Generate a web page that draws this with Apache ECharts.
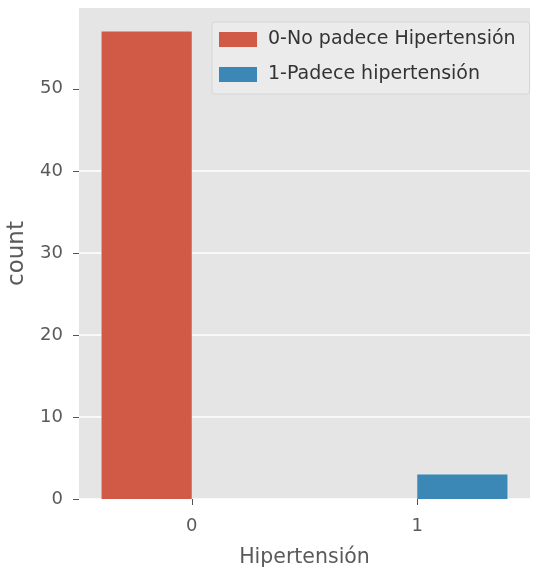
<!DOCTYPE html>
<html><head><meta charset="utf-8">
<script src="https://cdn.jsdelivr.net/npm/echarts@6/dist/echarts.min.js"></script>
<style>html,body{margin:0;padding:0;background:#fff}#c{width:534px;height:576px}</style>
</head><body><div id="c"></div>
<script>
const categories = ['0', '1'];
const seriesNames = ['0-No padece Hipertensión', '1-Padece hipertensión'];
const noPadece = [57, null];
const padece = [null, 3];
const yTicks = [0, 10, 20, 30, 40, 50];
const FONT = '"DejaVu Sans", sans-serif';
const chart = echarts.init(document.getElementById('c'), null, {renderer: 'canvas'});
chart.setOption({
  backgroundColor: '#ffffff',
  animation: false,
  textStyle: {fontFamily: FONT},
  grid: {left: 79, right: 4, top: 8, bottom: 77, show: true, backgroundColor: '#e5e5e5', borderWidth: 0,
         containLabel: false, outerBoundsMode: 'none'},
  legend: {
    orient: 'vertical', left: 212, top: 22,
    itemWidth: 38, itemHeight: 15, itemGap: 16,
    backgroundColor: '#ebebeb', borderColor: '#d6d6d6', borderWidth: 1, borderRadius: 3,
    padding: [8, 14, 10, 7],
    textStyle: {fontFamily: FONT, fontSize: 19, color: '#333', padding: [0, 0, 0, 6]},
    icon: 'rect',
    data: seriesNames
  },
  xAxis: {
    type: 'category', data: categories,
    name: 'Hipertensión', nameLocation: 'middle', nameGap: 48,
    nameTextStyle: {fontFamily: FONT, fontSize: 20.5, color: '#5a5a5a'},
    axisLine: {show: false},
    axisTick: {show: true, alignWithLabel: true, length: 6, lineStyle: {color: '#555'}},
    axisLabel: {fontFamily: FONT, fontSize: 18, color: '#5a5a5a', margin: 18},
    splitLine: {show: false}
  },
  yAxis: {
    type: 'value', min: 0, max: 59.85, interval: 10,
    name: 'count', nameLocation: 'middle', nameGap: 50,
    nameTextStyle: {fontFamily: FONT, fontSize: 23, color: '#5a5a5a'},
    axisLine: {show: false},
    axisTick: {show: true, length: 6, lineStyle: {color: '#555'}, customValues: yTicks},
    axisLabel: {fontFamily: FONT, fontSize: 18, color: '#5a5a5a', margin: 16, customValues: yTicks},
    splitLine: {show: true, showMaxLine: false, lineStyle: {color: '#ffffff', width: 1.5}}
  },
  series: [
    {name: seriesNames[0], type: 'bar', data: noPadece, barGap: '0%', barCategoryGap: '20%',
     itemStyle: {color: '#D15A47'}},
    {name: seriesNames[1], type: 'bar', data: padece, barGap: '0%', barCategoryGap: '20%',
     itemStyle: {color: '#3B87B6'}}
  ]
});
</script></body></html>
